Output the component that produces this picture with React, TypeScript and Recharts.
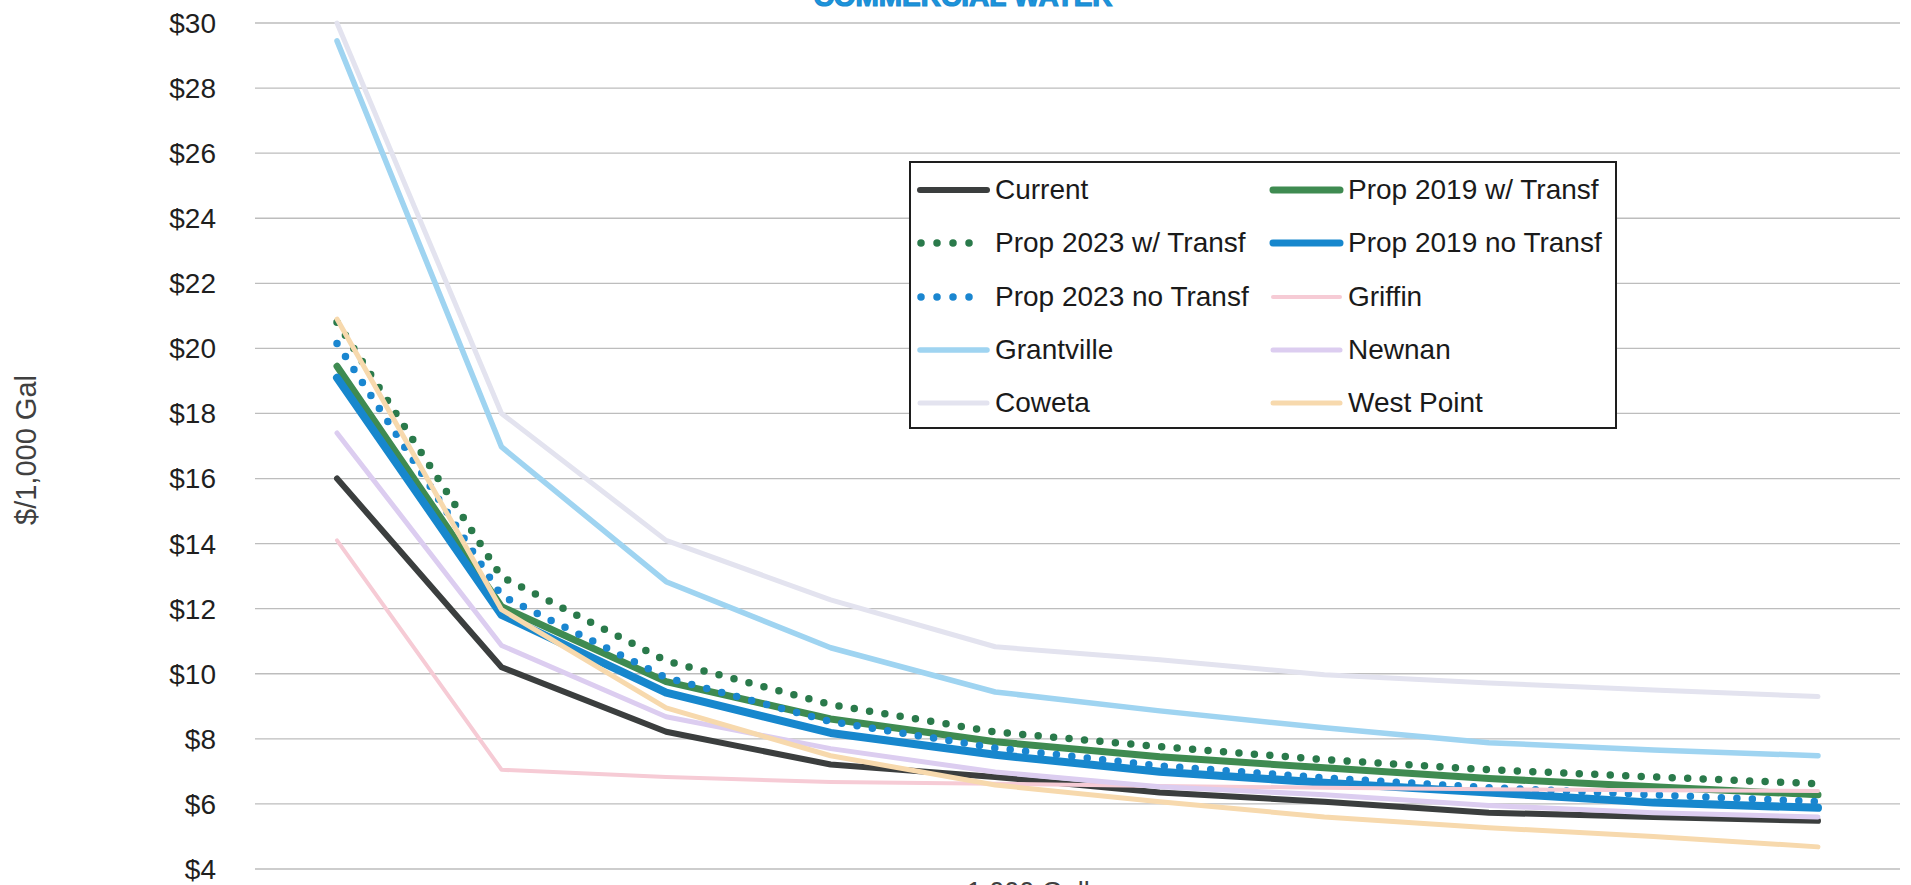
import { LineChart, Line, XAxis, YAxis, CartesianGrid, Legend } from 'recharts'

// usage steps along the x axis (tick labels are cropped off in the source)
const categories = ['1', '2', '3', '4', '5', '6', '7', '8', '9', '10']

const current = [16.0, 10.2, 8.22, 7.21, 6.83, 6.35, 6.07, 5.73, 5.6, 5.48]
const prop2019wTransf = [19.45, 12.06, 9.76, 8.61, 7.91, 7.45, 7.11, 6.78, 6.53, 6.28]
const prop2023wTransf = [20.8, 12.98, 10.4, 9.05, 8.21, 7.76, 7.36, 7.05, 6.83, 6.62]
const prop2019noTransf = [19.1, 11.81, 9.42, 8.18, 7.51, 6.99, 6.65, 6.35, 6.04, 5.88]
const prop2023noTransf = [20.15, 12.4, 9.88, 8.53, 7.72, 7.17, 6.8, 6.5, 6.28, 6.07]
const griffin = [14.1, 7.05, 6.83, 6.67, 6.62, 6.55, 6.5, 6.45, 6.42, 6.4]
const grantville = [29.45, 16.97, 12.83, 10.8, 9.44, 8.86, 8.34, 7.88, 7.66, 7.48]
const newnan = [17.4, 10.87, 8.68, 7.7, 6.98, 6.53, 6.28, 5.95, 5.73, 5.6]
const coweta = [30.0, 18.0, 14.1, 12.27, 10.83, 10.43, 9.97, 9.72, 9.5, 9.3]
const westPoint = [20.9, 11.97, 8.95, 7.48, 6.58, 6.07, 5.6, 5.27, 5.0, 4.68]

const yTicks = [4, 6, 8, 10, 12, 14, 16, 18, 20, 22, 24, 26, 28, 30]

type Series = {
  key: string
  name: string
  values: number[]
  color: string
  width: number
  dotted?: boolean
}

const series: Series[] = [
  { key: 'current', name: 'Current', values: current, color: '#3b3e3e', width: 6 },
  { key: 'p19w', name: 'Prop 2019 w/ Transf', values: prop2019wTransf, color: '#3f8b51', width: 7 },
  { key: 'p23w', name: 'Prop 2023 w/ Transf', values: prop2023wTransf, color: '#2a7a4b', width: 7.5, dotted: true },
  { key: 'p19n', name: 'Prop 2019 no Transf', values: prop2019noTransf, color: '#1787cd', width: 8 },
  { key: 'p23n', name: 'Prop 2023 no Transf', values: prop2023noTransf, color: '#1a86d0', width: 7.5, dotted: true },
  { key: 'griffin', name: 'Griffin', values: griffin, color: '#f6cbd5', width: 4 },
  { key: 'grantville', name: 'Grantville', values: grantville, color: '#9fd4f1', width: 5.5 },
  { key: 'newnan', name: 'Newnan', values: newnan, color: '#dccdf0', width: 5 },
  { key: 'coweta', name: 'Coweta', values: coweta, color: '#e3e3ef', width: 5 },
  { key: 'westpoint', name: 'West Point', values: westPoint, color: '#f7d9ad', width: 5 },
]

const data = categories.map((c, i) => {
  const row: Record<string, string | number> = { usage: c }
  series.forEach((s) => {
    row[s.key] = s.values[i]
  })
  return row
})

const FONT = '"Liberation Sans", Arial, sans-serif'

function LegendBox() {
  return (
    <div
      style={{
        position: 'relative',
        width: 704,
        height: 264,
        border: '2px solid #1e1e1e',
        background: '#fff',
        fontFamily: FONT,
      }}
    >
      {series.map((s, i) => {
        const col = i % 2
        const row = Math.floor(i / 2)
        const left = col === 0 ? 4 : 357
        const center = 27 + row * 53.25
        return (
          <div
            key={s.key}
            style={{
              position: 'absolute',
              left,
              top: center - 20,
              height: 40,
              display: 'flex',
              alignItems: 'center',
            }}
          >
            <svg width={76} height={20}>
              <line
                x1={s.dotted ? 6 : 5}
                y1={10}
                x2={s.dotted ? 70 : 72}
                y2={10}
                stroke={s.color}
                strokeWidth={s.dotted ? 7.5 : Math.min(s.width, 7)}
                strokeLinecap="round"
                strokeDasharray={s.dotted ? '0 16' : undefined}
              />
            </svg>
            <span style={{ fontSize: 28, color: '#1a1a1a', marginLeft: 4, whiteSpace: 'nowrap' }}>
              {s.name}
            </span>
          </div>
        )
      })}
    </div>
  )
}

export default function App() {
  return (
    <div
      style={{
        position: 'absolute',
        left: 0,
        top: 0,
        width: 1911,
        height: 885,
        overflow: 'hidden',
        background: '#fff',
      }}
    >
      <LineChart
        width={1911}
        height={885}
        data={data}
        margin={{ top: 23, right: 11, bottom: 16, left: 0 }}
      >
        <CartesianGrid vertical={false} stroke="#bdbdbd" strokeWidth={1.3} />
        <XAxis dataKey="usage" hide padding={{ left: 82, right: 82 }} />
        <YAxis
          width={255}
          domain={[4, 30]}
          ticks={yTicks}
          interval={0}
          axisLine={false}
          tickLine={false}
          tickSize={0}
          tickMargin={39}
          tickFormatter={(v) => `$${v}`}
          tick={{ fontSize: 28, fill: '#1f1f1f', fontFamily: FONT }}
        />
        <Legend
          layout="vertical"
          align="center"
          verticalAlign="middle"
          wrapperStyle={{ left: 909, top: 161, width: 708, height: 268 }}
          content={() => <LegendBox />}
        />
        {series.map((s) => (
          <Line
            key={s.key}
            type="linear"
            dataKey={s.key}
            name={s.name}
            stroke={s.color}
            strokeWidth={s.width}
            strokeLinecap="round"
            strokeLinejoin="round"
            strokeDasharray={s.dotted ? '0 15.5' : undefined}
            dot={false}
            activeDot={false}
            isAnimationActive={false}
          />
        ))}
      </LineChart>
      <svg
        width={1911}
        height={885}
        style={{ position: 'absolute', left: 0, top: 0, pointerEvents: 'none' }}
      >
        <text
          x={963}
          y={6}
          textAnchor="middle"
          fontFamily={FONT}
          fontWeight="bold"
          fontSize={28}
          fill="#1b95dc"
          stroke="#1b8ad0"
          strokeWidth={1.2}
        >
          COMMERCIAL WATER
        </text>
        <text
          x={26}
          y={450}
          transform="rotate(-90 26 450)"
          textAnchor="middle"
          dominantBaseline="central"
          fontFamily={FONT}
          fontSize={29}
          fill="#404040"
        >
          $/1,000 Gal
        </text>
        <text
          x={1050}
          y={901}
          textAnchor="middle"
          fontFamily={FONT}
          fontSize={27}
          fill="#404040"
        >
          1,000 Gallons
        </text>
      </svg>
    </div>
  )
}
